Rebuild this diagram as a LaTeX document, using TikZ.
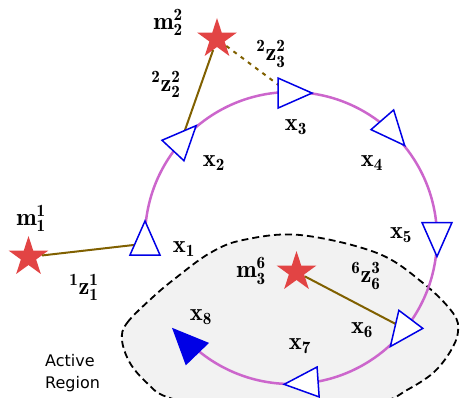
\documentclass[tikz,border=0pt]{standalone}
\usepackage{fontspec}
\newfontfamily\dejavu{DejaVu Sans}
\usetikzlibrary{shapes.geometric}
\definecolor{arcmag}{RGB}{204,102,204}
\definecolor{poseblue}{RGB}{0,0,230}
\definecolor{starred}{RGB}{226,68,68}
\definecolor{linkbrown}{RGB}{128,96,0}
\definecolor{regiongray}{RGB}{242,242,242}
\begin{document}
\begin{tikzpicture}[x=1pt,y=1pt,
  lbl/.style={inner sep=0pt, font=\fontsize{24.5}{29}\selectfont},
  landmark/.style={star, star points=5, star point ratio=2.618, minimum size=42pt, inner sep=0pt, fill=starred},
  link/.style={draw=linkbrown, line width=2pt},
  linkdash/.style={link, dash pattern=on 4pt off 5pt},
  trajectory/.style={draw=arcmag, line width=2.5pt},
  poseopen/.style={draw=poseblue, fill=white, line width=1.5pt, line join=miter},
  posefilled/.style={draw=poseblue, fill=poseblue, line width=1.5pt, line join=miter},
  region/.style={draw=black, fill=regiongray, line width=1.8pt, dash pattern=on 7pt off 4pt},
  pose/.pic={\path[#1] (17,0) -- (-17,15) -- (-17,-15) -- cycle;}
]
\useasboundingbox (0,0) rectangle (460,397);
\clip (0,0) rectangle (460,397);

% active region
\path[region] plot[smooth cycle, tension=0.6] coordinates {(122,57) (127,74) (153,100) (177,120) (210,144) (243,157) (300,162) (377,144) (423,114) (453,84) (458,65) (450,45) (433,24) (407,7) (380,-5) (300,-15) (220,-12) (167,0) (147,14) (130,34)};
\node[anchor=north west, inner sep=0pt, align=left, font=\dejavu\fontsize{16}{21.7}\selectfont] (act) at (45,42.5) {Active\\Region};

% pose positions on the loop
\coordinate (C) at (291,159);
\coordinate (x1) at ([shift={(C)}]180:146);
\coordinate (x2) at ([shift={(C)}]136.8:146);
\coordinate (x3) at ([shift={(C)}]88.4:145);
\coordinate (x4) at ([shift={(C)}]45.8:147);
\coordinate (x5) at ([shift={(C)}]-0.6:146);
\coordinate (x6) at ([shift={(C)}]-40.9:145);
\coordinate (x7) at ([shift={(C)}]-86:145.5);
\coordinate (x8) at ([shift={(C)}]-135.7:148);
% centroids (link targets)
\coordinate (c1) at ([shift={(x1)}]270:5.7);
\coordinate (c2) at ([shift={(x2)}]227:5.7);
\coordinate (c3) at ([shift={(x3)}]180:5.7);
\coordinate (c6) at ([shift={(x6)}]54:5.7);

% trajectory
\draw[trajectory] (x1) arc[start angle=180, end angle=-135.7, radius=146];

% landmarks
\node[landmark] (m1) at (28.5,140) {};
\node[landmark] (m2) at (217,358) {};
\node[landmark] (m3) at (296.5,125) {};

% links
\draw[link] (m1) -- (c1);
\draw[link] (m2) -- (c2);
\draw[linkdash] (m2) -- (c3);
\draw[link] (m3) -- (c6);

% poses
\pic[rotate=90] at (x1) {pose=poseopen};
\pic[rotate=47] at (x2) {pose=poseopen};
\pic[rotate=0] at (x3) {pose=poseopen};
\pic[rotate=-49] at (x4) {pose=poseopen};
\pic[rotate=-90] at (x5) {pose=poseopen};
\pic[rotate=-127] at (x6) {pose=poseopen};
\pic[rotate=184] at (x7) {pose=poseopen};
\pic[rotate=134] at (x8) {pose=posefilled};

% labels
\node[lbl] (lm2) at (168,375) {$\mathbf{m_2^2}$};
\node[lbl] (lz22) at (166,313) {$\mathbf{{}^{2}z_{2}^{2}}$};
\node[lbl] (lz23) at (271,343) {$\mathbf{{}^{2}z_{3}^{2}}$};
\node[lbl] (lx3) at (296,270) {$\mathbf{x_3}$};
\node[lbl] (lx2) at (214,234) {$\mathbf{x_2}$};
\node[lbl] (lx4) at (372,234) {$\mathbf{x_4}$};
\node[lbl] (lx5) at (401,162) {$\mathbf{x_5}$};
\node[lbl] (lm1) at (31,179) {$\mathbf{m_1^1}$};
\node[lbl] (lx1) at (184,148) {$\mathbf{x_1}$};
\node[lbl] (lz11) at (84,110) {$\mathbf{{}^{1}z_{1}^{1}}$};
\node[lbl] (lm3) at (251,126) {$\mathbf{m_3^6}$};
\node[lbl] (lz63) at (366,121) {$\mathbf{{}^{6}z_{6}^{3}}$};
\node[lbl] (lx6) at (362,67) {$\mathbf{x_6}$};
\node[lbl] (lx8) at (201,80) {$\mathbf{x_8}$};
\node[lbl] (lx7) at (300,51) {$\mathbf{x_7}$};
\end{tikzpicture}
\end{document}
